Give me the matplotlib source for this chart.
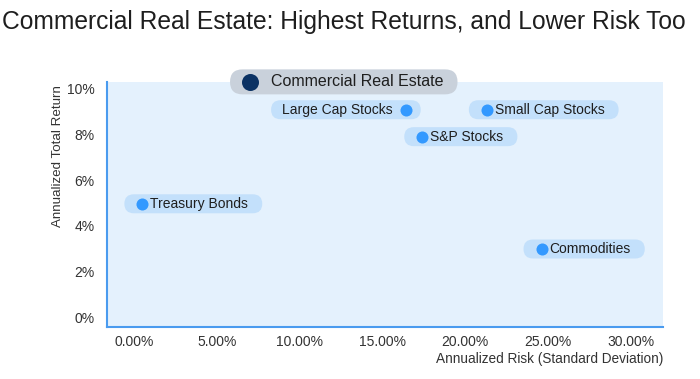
import matplotlib.pyplot as plt
from matplotlib.patches import FancyBboxPatch
from matplotlib.transforms import IdentityTransform
from matplotlib.ticker import FuncFormatter

plt.rcParams['font.family'] = ['Liberation Sans', 'DejaVu Sans']

# data
assets = ['Commercial Real Estate', 'Large Cap Stocks', 'Small Cap Stocks',
          'S&P Stocks', 'Treasury Bonds', 'Commodities']
risk = [7.0, 16.4, 21.3, 17.4, 0.5, 24.6]       # annualized std dev, %
ret = [10.3, 9.08, 9.08, 7.9, 4.96, 2.98]       # annualized total return, %
label_side = ['right', 'left', 'right', 'right', 'right', 'right']

x_ticks = [0, 5, 10, 15, 20, 25, 30]
y_ticks = [0, 2, 4, 6, 8, 10]

fig = plt.figure(figsize=(7, 3.79), dpi=100)
ax = fig.add_axes([0.153, 0.137, 0.794, 0.647])
ax.set_facecolor('#e4f1fd')

ax.set_xlim(-1.63, 31.93)
ax.set_ylim(-0.44, 10.3)
ax.set_xticks(x_ticks)
ax.set_yticks(y_ticks)
ax.xaxis.set_major_formatter(FuncFormatter(lambda v, p: '{:.2f}%'.format(v)))
ax.yaxis.set_major_formatter(FuncFormatter(lambda v, p: '{:.0f}%'.format(v)))
ax.tick_params(length=0, labelsize=10, colors='#333333')
ax.tick_params(axis='x', pad=6)
ax.tick_params(axis='y', pad=9)

for s in ['top', 'right']:
    ax.spines[s].set_visible(False)
for s in ['left', 'bottom']:
    ax.spines[s].set_color('#4a9bef')
    ax.spines[s].set_linewidth(1.5)

# labels first, boxes fitted round them afterwards (pixel units)
texts = []
for i, name in enumerate(assets):
    big = i == 0
    px = 21 if big else 8
    if label_side[i] == 'left':
        px = -13
    ax.scatter(risk[i], ret[i], s=150 if big else 75,
               color='#0b3264' if big else '#3399ff', zorder=4, clip_on=False,
               linewidths=0)
    t = ax.annotate(name, (risk[i], ret[i]), xytext=(px * 0.72, 0),
                    textcoords='offset points',
                    ha='left' if px > 0 else 'right', va='center',
                    fontsize=11.5 if big else 10, color='#1e1e1e', zorder=3,
                    annotation_clip=False)
    texts.append(t)

fig.canvas.draw()
r = fig.canvas.get_renderer()
for i, t in enumerate(texts):
    big = i == 0
    bb = t.get_window_extent(r)
    mx, my = ax.transData.transform((risk[i], ret[i]))
    h = 25 if big else 19
    if label_side[i] == 'left':
        x0, x1 = bb.x0 - 11, mx + 15
    else:
        x0, x1 = mx - (20 if big else 18), bb.x1 + 14
    p = FancyBboxPatch((x0, my - h / 2), x1 - x0, h,
                       boxstyle='round,pad=0,rounding_size={}'.format(h / 2),
                       transform=IdentityTransform(),
                       fc='#c9d1db' if big else '#c3e0fb', ec='none', zorder=2)
    ax.add_artist(p)
    p.set_clip_on(False)

ax.set_ylabel('Annualized Total Return', fontsize=9.6, color='#333333')
ax.yaxis.set_label_coords(-0.077, 0.698)
ax.set_xlabel('Annualized Risk (Standard Deviation)', fontsize=9.8, color='#333333')
ax.xaxis.set_label_coords(1.0, -0.1)
ax.xaxis.label.set_horizontalalignment('right')

fig.text(0.003, 0.942, 'Commercial Real Estate: Highest Returns, and Lower Risk Too',
         fontsize=17.7, color='#1e1e1e', ha='left', va='center')

fig.savefig('out.png', dpi=100)
